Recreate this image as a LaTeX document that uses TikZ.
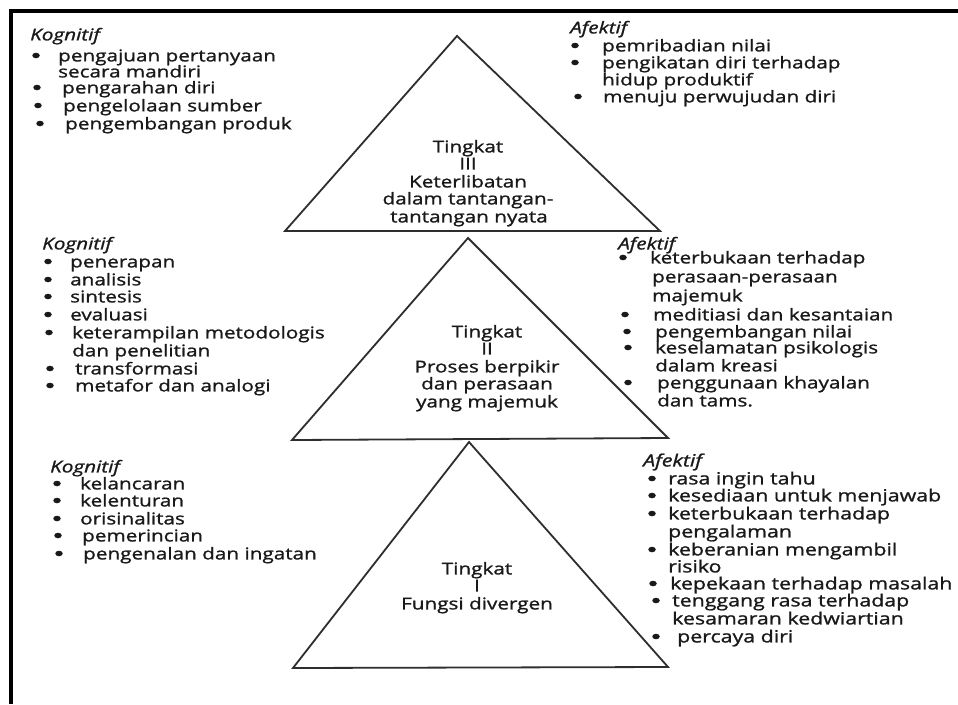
\documentclass[tikz,border=0pt]{standalone}
\usepackage{fontspec}
\setmainfont{Open Sans}[FakeStretch=1.27,FakeBold=1.2]
\usetikzlibrary{shapes.geometric}
\newcommand\Bitem[5]{\node[bul] (#1b) at (#2,#4) {};\node[txt] (#1) at (#3,#4) {#5};}
\newcommand\Litem[4]{\node[txt] (#1) at (#2,#3) {#4};}
\begin{document}
\begin{tikzpicture}[x=1pt,y=-1pt,
  fnt/.style={font=\fontsize{16.3}{17.5}\selectfont},
  txt/.style={anchor=base west,yshift=-4.4pt,inner sep=0pt,text=black!90,fnt},
  head/.style={txt,font=\fontsize{16.3}{17.5}\selectfont\itshape},
  ctr/.style={anchor=base,yshift=-4.4pt,inner sep=0pt,text=black!90,fnt},
  bul/.style={ellipse,fill=black!90,minimum width=7.5pt,minimum height=5.5pt,inner sep=0pt,yshift=1.5pt},
  tri/.style={draw=black!82,line width=1.8pt,line join=miter},
  frame/.style={line width=4pt,black}]
\useasboundingbox (0,0) rectangle (958,704);
\fill[white] (0,0) rectangle (958,704);
% frame
\coordinate (fc) at (11,11);
\coordinate (fr) at (958,11);
\coordinate (fb) at (11,704);
\draw[frame] (fr) -- (fc) -- (fb);
% triangles
\coordinate (t3a) at (457,36);  \coordinate (t3l) at (285,231); \coordinate (t3r) at (660,231);
\coordinate (t2a) at (468,238); \coordinate (t2l) at (292,440); \coordinate (t2r) at (668,438);
\coordinate (t1a) at (469,442); \coordinate (t1l) at (293,668); \coordinate (t1r) at (668,667);
\draw[tri] (t3a) -- (t3l) -- (t3r) -- cycle;
\draw[tri] (t2a) -- (t2l) -- (t2r) -- cycle;
\draw[tri] (t1a) -- (t1l) -- (t1r) -- cycle;
% triangle texts
\node[ctr] (t3x1) at (468,148) {Tingkat};
\node[ctr] (t3x2) at (468,165) {III};
\node[ctr] (t3x3) at (468,183) {Keterlibatan};
\node[ctr] (t3x4) at (468,200) {dalam tantangan-};
\node[ctr] (t3x5) at (469,218) {tantangan nyata};
\node[ctr] (t2x1) at (487,333) {Tingkat};
\node[ctr] (t2x2) at (487,350) {II};
\node[ctr] (t2x3) at (487,368) {Proses berpikir};
\node[ctr] (t2x4) at (487,385) {dan perasaan};
\node[ctr] (t2x5) at (487,403) {yang majemuk};
\node[ctr] (t1x1) at (477,570) {Tingkat};
\node[ctr] (t1x2) at (477,587) {I};
\node[ctr] (t1x3) at (477,605) {Fungsi divergen};
% top left
\node[head] (k3) at (30,36) {Kognitif};
\Bitem{k3a}{36}{58}{57}{pengajuan pertanyaan}
\Litem{k3a2}{58}{73}{secara mandiri}
\Bitem{k3b}{37}{62}{89}{pengarahan diri}
\Bitem{k3c}{38}{63}{107}{pengelolaan sumber}
\Bitem{k3d}{40}{65}{125}{pengembangan produk}
% top right
\node[head] (a3) at (570,29) {Afektif};
\Bitem{a3a}{575}{602}{47}{pemribadian nilai}
\Bitem{a3b}{575}{602}{64}{pengikatan diri terhadap}
\Litem{a3b2}{602}{81}{hidup produktif}
\Bitem{a3c}{578}{603}{98}{menuju perwujudan diri}
% middle left
\node[head] (k2) at (42,245) {Kognitif};
\Bitem{k2a}{48}{70}{263}{penerapan}
\Bitem{k2b}{48}{70}{281}{analisis}
\Bitem{k2c}{48}{70}{298}{sintesis}
\Bitem{k2d}{48}{70}{316}{evaluasi}
\Bitem{k2e}{49}{72}{334}{keterampilan metodologis}
\Litem{k2e2}{72}{352}{dan penelitian}
\Bitem{k2f}{50}{75}{370}{transformasi}
\Bitem{k2g}{50}{75}{387}{metafor dan analogi}
% middle right
\node[head] (a2) at (618,245) {Afektif};
\Bitem{a2a}{623}{650}{259}{keterbukaan terhadap}
\Litem{a2a2}{652}{278}{perasaan-perasaan}
\Litem{a2a3}{652}{297}{majemuk}
\Bitem{a2b}{625}{653}{316}{meditiasi dan kesantaian}
\Bitem{a2c}{627}{655}{333}{pengembangan nilai}
\Bitem{a2d}{628}{655}{349}{keselamatan psikologis}
\Litem{a2d2}{655}{367}{dalam kreasi}
\Bitem{a2e}{628}{657}{384}{penggunaan khayalan}
\Litem{a2e2}{657}{402}{dan tams.}
% bottom left
\node[head] (k1) at (50,468) {Kognitif};
\Bitem{k1a}{57}{80}{485}{kelancaran}
\Bitem{k1b}{57}{80}{502}{kelenturan}
\Bitem{k1c}{57}{80}{520}{orisinalitas}
\Bitem{k1d}{58}{82}{537}{pemerincian}
\Bitem{k1e}{59}{83}{555}{pengenalan dan ingatan}
% bottom right
\begin{scope}[fnt/.style={font=\fontsize{16.8}{17.5}\selectfont}]
\node[head,font=\fontsize{16.8}{17.5}\selectfont\itshape] (a1) at (643,462) {Afektif};
\Bitem{a1a}{652}{668}{480}{rasa ingin tahu}
\Bitem{a1b}{652}{668}{497}{kesediaan untuk menjawab}
\Bitem{a1c}{652}{668}{515}{keterbukaan terhadap}
\Litem{a1c2}{668}{533}{pengalaman}
\Bitem{a1d}{652}{668}{551}{keberanian mengambil}
\Litem{a1d2}{668}{568}{risiko}
\Bitem{a1e}{653}{670}{585}{kepekaan terhadap masalah}
\Bitem{a1f}{656}{672}{602}{tenggang rasa terhadap}
\Litem{a1f2}{672}{620}{kesamaran kedwiartian}
\Bitem{a1g}{656}{677}{638}{percaya diri}
\end{scope}
\end{tikzpicture}
\end{document}
